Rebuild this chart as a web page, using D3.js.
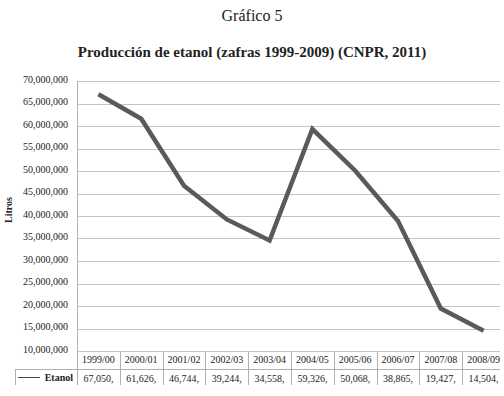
<!DOCTYPE html>
<meta charset="utf-8">
<script src="https://d3js.org/d3.v7.min.js"></script>
<style>
  body { margin: 0; background: #fff; }
  text { font-family: "Liberation Serif", "Times New Roman", serif; fill: #222; }
</style>
<body>
<div id="chart"></div>
<script>
// data
var seasons = ["1999/00", "2000/01", "2001/02", "2002/03", "2003/04",
               "2004/05", "2005/06", "2006/07", "2007/08", "2008/09"];
var etanol = [67050000, 61626000, 46744000, 39244000, 34558000,
              59326000, 50068000, 38865000, 19427000, 14504000];
var yTicks = [10000000, 15000000, 20000000, 25000000, 30000000, 35000000,
              40000000, 45000000, 50000000, 55000000, 60000000, 65000000, 70000000];

var W = 504, H = 396;
var plotLeft = 77, plotRight = 505, plotTop = 81, plotBottom = 351;

var svg = d3.select("#chart").append("svg")
    .attr("width", W)
    .attr("height", H);

// titles
svg.append("text")
    .attr("x", 252).attr("y", 21)
    .attr("text-anchor", "middle")
    .style("font-size", "16px")
    .text("Gráfico 5");
svg.append("text")
    .attr("x", 252).attr("y", 57)
    .attr("text-anchor", "middle")
    .style("font-size", "15px")
    .style("font-weight", "bold")
    .text("Producción de etanol (zafras 1999-2009) (CNPR, 2011)");

var x = d3.scaleBand()
    .domain(seasons)
    .range([plotLeft, plotRight]);

var y = d3.scaleLinear()
    .domain([10000000, 70000000])
    .range([plotBottom, plotTop]);

// gridlines
svg.append("g")
  .selectAll("line")
  .data(yTicks)
  .enter()
  .append("line")
    .attr("x1", plotLeft).attr("x2", 500)
    .attr("y1", function(d) { return Math.round(y(d)) + 0.5; })
    .attr("y2", function(d) { return Math.round(y(d)) + 0.5; })
    .attr("stroke", "#c4c4c4");

// y axis labels
var yAxis = svg.append("g")
    .attr("transform", "translate(" + plotLeft + ",0)")
    .call(d3.axisLeft(y).tickValues(yTicks).tickFormat(d3.format(",")).tickSize(0).tickPadding(9));
yAxis.select(".domain").remove();
yAxis.selectAll("text")
    .style("font-family", "'Liberation Serif', serif")
    .style("font-size", "10px")
    .attr("fill", "#333")
    .attr("dy", "0.1em");

// left axis line down through the table
svg.append("line")
    .attr("x1", plotLeft + 0.5).attr("x2", plotLeft + 0.5)
    .attr("y1", plotTop).attr("y2", 386)
    .attr("stroke", "#b0b0b0");

svg.append("text")
    .attr("transform", "translate(12,210) rotate(-90)")
    .attr("text-anchor", "middle")
    .style("font-size", "10px")
    .style("font-weight", "bold")
    .text("Litros");

// the line
svg.append("path")
    .datum(etanol)
    .attr("fill", "none")
    .attr("stroke", "#5a5a5a")
    .attr("stroke-width", 4.5)
    .attr("stroke-linejoin", "miter")
    .attr("d", d3.line()
      .x(function(d, i) { return x(seasons[i]) + x.bandwidth() / 2; })
      .y(function(d) { return y(d); }));

// data table
var rowMid = 369;
var table = svg.append("g");
table.append("line")
    .attr("x1", 15).attr("x2", 500)
    .attr("y1", rowMid + 0.5).attr("y2", rowMid + 0.5)
    .attr("stroke", "#b0b0b0");
table.append("line")
    .attr("x1", 15.5).attr("x2", 15.5)
    .attr("y1", rowMid).attr("y2", 386)
    .attr("stroke", "#b0b0b0");
table.selectAll(".sep")
    .data(seasons.slice(1))
    .enter()
    .append("line")
    .attr("x1", function(d) { return Math.round(x(d)) + 0.5; })
    .attr("x2", function(d) { return Math.round(x(d)) + 0.5; })
    .attr("y1", plotBottom).attr("y2", 386)
    .attr("stroke", "#b0b0b0");

table.selectAll(".hdr")
    .data(seasons)
    .enter()
    .append("text")
    .attr("x", function(d) { return x(d) + x.bandwidth() / 2; })
    .attr("y", 363)
    .attr("text-anchor", "middle")
    .style("font-size", "10px")
    .text(function(d) { return d; });

table.selectAll(".val")
    .data(etanol)
    .enter()
    .append("text")
    .attr("x", function(d, i) { return x(seasons[i]) + x.bandwidth() / 2; })
    .attr("y", 382)
    .attr("text-anchor", "middle")
    .style("font-size", "10px")
    .text(function(d) { return d3.format(",")(d).slice(0, 7); });

// legend key
table.append("line")
    .attr("x1", 18).attr("x2", 40)
    .attr("y1", 377.5).attr("y2", 377.5)
    .attr("stroke", "#444").attr("stroke-width", 1);
table.append("text")
    .attr("x", 73).attr("y", 381)
    .attr("text-anchor", "end")
    .style("font-size", "10px")
    .style("font-weight", "bold")
    .text("Etanol");

// picture is cut below the data row
svg.append("rect")
    .attr("x", 0).attr("y", 385)
    .attr("width", W).attr("height", H - 385)
    .attr("fill", "#fff");
</script>
</body>
